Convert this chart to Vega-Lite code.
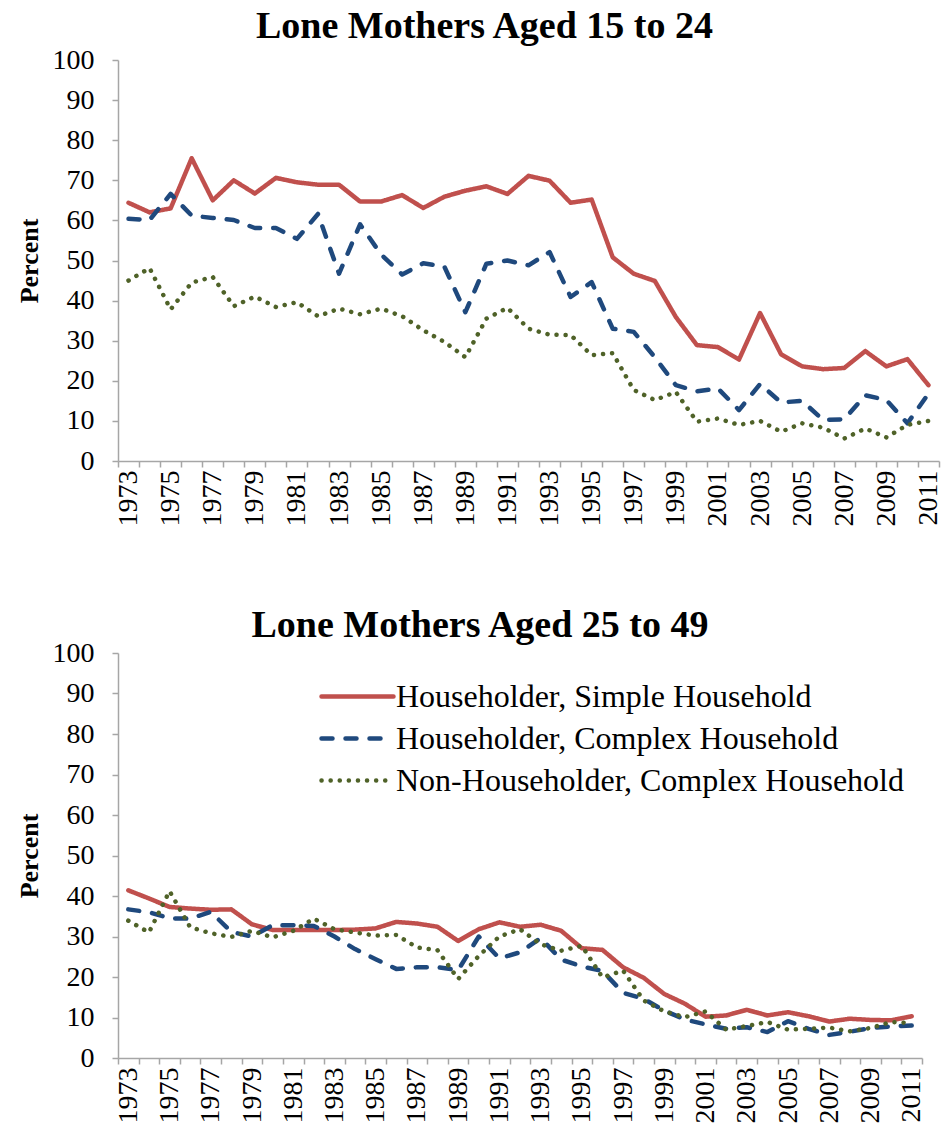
{
  "$schema": "https://vega.github.io/schema/vega-lite/v6.json",
  "padding": {"left": 16, "top": 8, "right": 0, "bottom": 0},
  "background": "white",
  "config": {
    "view": {"stroke": null},
    "font": "Liberation Serif",
    "axis": {"domainColor": "#a6a6a6", "tickColor": "#a6a6a6", "domainWidth": 1.5, "tickWidth": 1.5, "tickSize": 6, "grid": false, "labelFont": "Liberation Serif", "labelFontSize": 28, "labelColor": "black", "titleFont": "Liberation Serif", "titleFontSize": 26, "titleFontWeight": "bold", "titleColor": "black"},
    "title": {"font": "Liberation Serif", "fontSize": 38, "fontWeight": "bold", "color": "black", "anchor": "middle"}
  },
  "datasets": {
    "top": [
      {"year": 1973, "Householder, Simple Household": 64.4, "Householder, Complex Household": 60.4, "Non-Householder, Complex Household": 45},
      {"year": 1974, "Householder, Simple Household": 62, "Householder, Complex Household": 60.1, "Non-Householder, Complex Household": 48.1},
      {"year": 1975, "Householder, Simple Household": 63, "Householder, Complex Household": 66.6, "Non-Householder, Complex Household": 37.8},
      {"year": 1976, "Householder, Simple Household": 75.5, "Householder, Complex Household": 61.2, "Non-Householder, Complex Household": 44.5},
      {"year": 1977, "Householder, Simple Household": 65, "Householder, Complex Household": 60.6, "Non-Householder, Complex Household": 45.9},
      {"year": 1978, "Householder, Simple Household": 70, "Householder, Complex Household": 60.1, "Non-Householder, Complex Household": 38.6},
      {"year": 1979, "Householder, Simple Household": 66.7, "Householder, Complex Household": 58.1, "Non-Householder, Complex Household": 41},
      {"year": 1980, "Householder, Simple Household": 70.6, "Householder, Complex Household": 58.1, "Non-Householder, Complex Household": 38.4},
      {"year": 1981, "Householder, Simple Household": 69.5, "Householder, Complex Household": 55.4, "Non-Householder, Complex Household": 39.6},
      {"year": 1982, "Householder, Simple Household": 68.9, "Householder, Complex Household": 61.6, "Non-Householder, Complex Household": 36.1},
      {"year": 1983, "Householder, Simple Household": 68.9, "Householder, Complex Household": 46.7, "Non-Householder, Complex Household": 38},
      {"year": 1984, "Householder, Simple Household": 64.7, "Householder, Complex Household": 59, "Non-Householder, Complex Household": 36.6},
      {"year": 1985, "Householder, Simple Household": 64.7, "Householder, Complex Household": 51.5, "Non-Householder, Complex Household": 38},
      {"year": 1986, "Householder, Simple Household": 66.3, "Householder, Complex Household": 46.5, "Non-Householder, Complex Household": 36.1},
      {"year": 1987, "Householder, Simple Household": 63.1, "Householder, Complex Household": 49.3, "Non-Householder, Complex Household": 32.6},
      {"year": 1988, "Householder, Simple Household": 65.9, "Householder, Complex Household": 48.5, "Non-Householder, Complex Household": 29.7},
      {"year": 1989, "Householder, Simple Household": 67.4, "Householder, Complex Household": 37.1, "Non-Householder, Complex Household": 25.9},
      {"year": 1990, "Householder, Simple Household": 68.5, "Householder, Complex Household": 49.2, "Non-Householder, Complex Household": 35.5},
      {"year": 1991, "Householder, Simple Household": 66.6, "Householder, Complex Household": 50, "Non-Householder, Complex Household": 38.2},
      {"year": 1992, "Householder, Simple Household": 71.1, "Householder, Complex Household": 48.8, "Non-Householder, Complex Household": 33},
      {"year": 1993, "Householder, Simple Household": 69.9, "Householder, Complex Household": 52.1, "Non-Householder, Complex Household": 31.5},
      {"year": 1994, "Householder, Simple Household": 64.4, "Householder, Complex Household": 40.9, "Non-Householder, Complex Household": 31.4},
      {"year": 1995, "Householder, Simple Household": 65.2, "Householder, Complex Household": 44.6, "Non-Householder, Complex Household": 26.4},
      {"year": 1996, "Householder, Simple Household": 50.8, "Householder, Complex Household": 33, "Non-Householder, Complex Household": 26.9},
      {"year": 1997, "Householder, Simple Household": 46.7, "Householder, Complex Household": 32.2, "Non-Householder, Complex Household": 17.7},
      {"year": 1998, "Householder, Simple Household": 44.9, "Householder, Complex Household": 25.9, "Non-Householder, Complex Household": 15.2},
      {"year": 1999, "Householder, Simple Household": 35.9, "Householder, Complex Household": 18.9, "Non-Householder, Complex Household": 17.2},
      {"year": 2000, "Householder, Simple Household": 28.9, "Householder, Complex Household": 17.4, "Non-Householder, Complex Household": 9.8},
      {"year": 2001, "Householder, Simple Household": 28.4, "Householder, Complex Household": 18.1, "Non-Householder, Complex Household": 10.6},
      {"year": 2002, "Householder, Simple Household": 25.3, "Householder, Complex Household": 12.7, "Non-Householder, Complex Household": 9},
      {"year": 2003, "Householder, Simple Household": 36.9, "Householder, Complex Household": 19.2, "Non-Householder, Complex Household": 10},
      {"year": 2004, "Householder, Simple Household": 26.6, "Householder, Complex Household": 14.6, "Non-Householder, Complex Household": 7.3},
      {"year": 2005, "Householder, Simple Household": 23.6, "Householder, Complex Household": 15, "Non-Householder, Complex Household": 9.4},
      {"year": 2006, "Householder, Simple Household": 22.9, "Householder, Complex Household": 10.2, "Non-Householder, Complex Household": 8.3},
      {"year": 2007, "Householder, Simple Household": 23.2, "Householder, Complex Household": 10.4, "Non-Householder, Complex Household": 5.6},
      {"year": 2008, "Householder, Simple Household": 27.4, "Householder, Complex Household": 16.4, "Non-Householder, Complex Household": 8.1},
      {"year": 2009, "Householder, Simple Household": 23.6, "Householder, Complex Household": 15.2, "Non-Householder, Complex Household": 5.9},
      {"year": 2010, "Householder, Simple Household": 25.4, "Householder, Complex Household": 9.4, "Non-Householder, Complex Household": 9},
      {"year": 2011, "Householder, Simple Household": 18.9, "Householder, Complex Household": 16.8, "Non-Householder, Complex Household": 10}
    ],
    "bottom": [
      {"year": 1973, "Householder, Simple Household": 41.4, "Householder, Complex Household": 36.7, "Non-Householder, Complex Household": 33.9},
      {"year": 1974, "Householder, Simple Household": 39.4, "Householder, Complex Household": 36, "Non-Householder, Complex Household": 31},
      {"year": 1975, "Householder, Simple Household": 37.3, "Householder, Complex Household": 34.5, "Non-Householder, Complex Household": 41.2},
      {"year": 1976, "Householder, Simple Household": 36.9, "Householder, Complex Household": 34.4, "Non-Householder, Complex Household": 32.3},
      {"year": 1977, "Householder, Simple Household": 36.6, "Householder, Complex Household": 36.1, "Non-Householder, Complex Household": 30.8},
      {"year": 1978, "Householder, Simple Household": 36.7, "Householder, Complex Household": 31.1, "Non-Householder, Complex Household": 29.9},
      {"year": 1979, "Householder, Simple Household": 33, "Householder, Complex Household": 30, "Non-Householder, Complex Household": 31.4},
      {"year": 1980, "Householder, Simple Household": 31.6, "Householder, Complex Household": 32.8, "Non-Householder, Complex Household": 29.8},
      {"year": 1981, "Householder, Simple Household": 31.6, "Householder, Complex Household": 32.8, "Non-Householder, Complex Household": 31.4},
      {"year": 1982, "Householder, Simple Household": 31.6, "Householder, Complex Household": 32.6, "Non-Householder, Complex Household": 34.4},
      {"year": 1983, "Householder, Simple Household": 31.6, "Householder, Complex Household": 30, "Non-Householder, Complex Household": 31.8},
      {"year": 1984, "Householder, Simple Household": 31.7, "Householder, Complex Household": 26.9, "Non-Householder, Complex Household": 31},
      {"year": 1985, "Householder, Simple Household": 32, "Householder, Complex Household": 24.4, "Non-Householder, Complex Household": 30.2},
      {"year": 1986, "Householder, Simple Household": 33.6, "Householder, Complex Household": 22, "Non-Householder, Complex Household": 30.4},
      {"year": 1987, "Householder, Simple Household": 33.2, "Householder, Complex Household": 22.4, "Non-Householder, Complex Household": 27.3},
      {"year": 1988, "Householder, Simple Household": 32.4, "Householder, Complex Household": 22.4, "Non-Householder, Complex Household": 26.6},
      {"year": 1989, "Householder, Simple Household": 28.9, "Householder, Complex Household": 21.7, "Non-Householder, Complex Household": 19.5},
      {"year": 1990, "Householder, Simple Household": 31.8, "Householder, Complex Household": 30, "Non-Householder, Complex Household": 25.2},
      {"year": 1991, "Householder, Simple Household": 33.5, "Householder, Complex Household": 24.6, "Non-Householder, Complex Household": 30},
      {"year": 1992, "Householder, Simple Household": 32.4, "Householder, Complex Household": 26.1, "Non-Householder, Complex Household": 31.8},
      {"year": 1993, "Householder, Simple Household": 32.9, "Householder, Complex Household": 29.6, "Non-Householder, Complex Household": 28.1},
      {"year": 1994, "Householder, Simple Household": 31.4, "Householder, Complex Household": 24.3, "Non-Householder, Complex Household": 26.5},
      {"year": 1995, "Householder, Simple Household": 27.1, "Householder, Complex Household": 22.6, "Non-Householder, Complex Household": 27.7},
      {"year": 1996, "Householder, Simple Household": 26.7, "Householder, Complex Household": 21.5, "Non-Householder, Complex Household": 19.9},
      {"year": 1997, "Householder, Simple Household": 22.4, "Householder, Complex Household": 16.1, "Non-Householder, Complex Household": 21.6},
      {"year": 1998, "Householder, Simple Household": 19.8, "Householder, Complex Household": 14.6, "Non-Householder, Complex Household": 14.2},
      {"year": 1999, "Householder, Simple Household": 15.8, "Householder, Complex Household": 11.7, "Non-Householder, Complex Household": 11.5},
      {"year": 2000, "Householder, Simple Household": 13.4, "Householder, Complex Household": 9.5, "Non-Householder, Complex Household": 10.1},
      {"year": 2001, "Householder, Simple Household": 10.2, "Householder, Complex Household": 8.3, "Non-Householder, Complex Household": 11.5},
      {"year": 2002, "Householder, Simple Household": 10.5, "Householder, Complex Household": 7.2, "Non-Householder, Complex Household": 7},
      {"year": 2003, "Householder, Simple Household": 11.9, "Householder, Complex Household": 7.6, "Non-Householder, Complex Household": 7.9},
      {"year": 2004, "Householder, Simple Household": 10.5, "Householder, Complex Household": 6.4, "Non-Householder, Complex Household": 8.9},
      {"year": 2005, "Householder, Simple Household": 11.3, "Householder, Complex Household": 9.1, "Non-Householder, Complex Household": 7},
      {"year": 2006, "Householder, Simple Household": 10.3, "Householder, Complex Household": 7.2, "Non-Householder, Complex Household": 7.2},
      {"year": 2007, "Householder, Simple Household": 9, "Householder, Complex Household": 5.7, "Non-Householder, Complex Household": 7.5},
      {"year": 2008, "Householder, Simple Household": 9.7, "Householder, Complex Household": 6.5, "Non-Householder, Complex Household": 6.6},
      {"year": 2009, "Householder, Simple Household": 9.4, "Householder, Complex Household": 7.4, "Non-Householder, Complex Household": 7.4},
      {"year": 2010, "Householder, Simple Household": 9.3, "Householder, Complex Household": 7.8, "Non-Householder, Complex Household": 8.9},
      {"year": 2011, "Householder, Simple Household": 10.3, "Householder, Complex Household": 8, "Non-Householder, Complex Household": 8.6}
    ]
  },
  "spacing": 81,
  "resolve": {"legend": {"color": "independent", "strokeDash": "independent"}},
  "vconcat": [
    {
      "title": {"text": "Lone Mothers Aged 15 to 24", "dx": -44, "offset": 0},
      "width": 821,
      "height": 401,
      "data": {"name": "top"},
      "transform": [{"fold": ["Householder, Simple Household", "Householder, Complex Household", "Non-Householder, Complex Household"], "as": ["series", "value"]}],
      "mark": {"type": "line", "strokeWidth": 4.5, "strokeCap": "round", "strokeJoin": "round"},
      "encoding": {
        "x": {"field": "year", "type": "ordinal", "scale": {"type": "band", "paddingInner": 0, "paddingOuter": 0}, "axis": {"title": null, "tickBand": "extent", "labelAngle": -90, "labelPadding": 3, "labelOverlap": false, "labelBound": false, "labelFont": "Liberation Serif", "labelExpr": "datum.value % 2 == 1 ? datum.label : ''"}},
        "y": {"field": "value", "type": "quantitative", "scale": {"domain": [0, 100], "nice": false, "zero": true}, "axis": {"title": "Percent", "values": [0, 10, 20, 30, 40, 50, 60, 70, 80, 90, 100], "labelFont": "Liberation Serif", "labelPadding": 18, "titlePadding": 10}},
        "color": {"field": "series", "type": "nominal", "scale": {"domain": ["Householder, Simple Household", "Householder, Complex Household", "Non-Householder, Complex Household"], "range": ["#C0504D", "#1F497D", "#4F6228"]}, "legend": null},
        "strokeDash": {"field": "series", "type": "nominal", "scale": {"domain": ["Householder, Simple Household", "Householder, Complex Household", "Non-Householder, Complex Household"], "range": [[1, 0], [11, 13], [0.1, 9]]}, "legend": null}
      }
    },
    {
      "title": {"text": "Lone Mothers Aged 25 to 49", "dx": -40, "offset": -6},
      "width": 804,
      "height": 405,
      "data": {"name": "bottom"},
      "transform": [{"fold": ["Householder, Simple Household", "Householder, Complex Household", "Non-Householder, Complex Household"], "as": ["series", "value"]}],
      "mark": {"type": "line", "strokeWidth": 4.5, "strokeCap": "round", "strokeJoin": "round"},
      "encoding": {
        "x": {"field": "year", "type": "ordinal", "scale": {"type": "band", "paddingInner": 0, "paddingOuter": 0}, "axis": {"title": null, "tickBand": "extent", "labelAngle": -90, "labelPadding": 3, "labelOverlap": false, "labelBound": false, "labelFont": "Liberation Serif", "labelExpr": "datum.value % 2 == 1 ? datum.label : ''"}},
        "y": {"field": "value", "type": "quantitative", "scale": {"domain": [0, 100], "nice": false, "zero": true}, "axis": {"title": "Percent", "values": [0, 10, 20, 30, 40, 50, 60, 70, 80, 90, 100], "labelFont": "Liberation Serif", "labelPadding": 18, "titlePadding": 10}},
        "color": {"field": "series", "type": "nominal", "scale": {"domain": ["Householder, Simple Household", "Householder, Complex Household", "Non-Householder, Complex Household"], "range": ["#C0504D", "#1F497D", "#4F6228"]},
          "legend": {"title": null, "orient": "none", "legendX": 237, "legendY": 23, "symbolType": "M-3,0H1", "symbolSize": 1296, "symbolStrokeWidth": 4.5, "symbolFillColor": "transparent", "labelFont": "Liberation Serif", "labelFontSize": 32, "labelColor": "black", "labelLimit": 0, "rowPadding": 5, "labelOffset": 0, "encode": {"symbols": {"update": {"strokeCap": {"value": "round"}}}}}},
        "strokeDash": {"field": "series", "type": "nominal", "scale": {"domain": ["Householder, Simple Household", "Householder, Complex Household", "Non-Householder, Complex Household"], "range": [[1, 0], [11, 13], [0.1, 9]]}}
      }
    }
  ]
}
